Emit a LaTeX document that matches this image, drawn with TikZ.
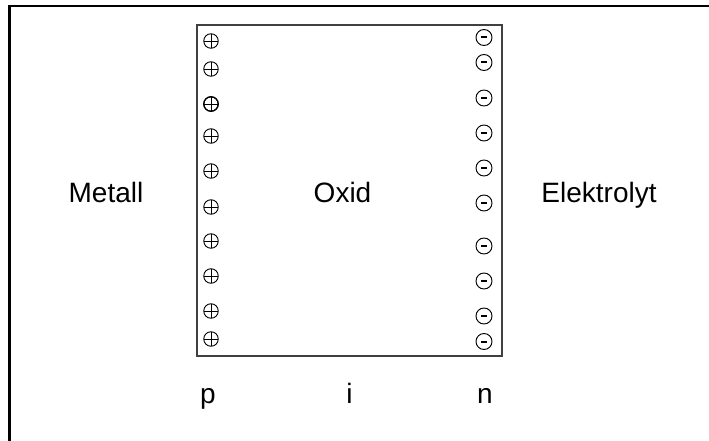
\documentclass[tikz,border=0pt]{standalone}
\usepackage{fontspec}
\setmainfont{Liberation Sans}
\begin{document}
\begin{tikzpicture}[x=1pt,y=-1pt,
  label/.style={inner sep=0pt, anchor=base, font=\fontsize{28}{32}\selectfont},
  layer/.style={draw=black!75, line width=1.3pt, minimum width=305pt, minimum height=331pt, inner sep=0pt},
  pluscharge/.style={circle, draw=black, line width=0.9pt, minimum size=14.5pt, inner sep=0pt,
    path picture={
      \draw[line width=0.8pt]
        ([yshift=-0.8pt]path picture bounding box.west) -- ([yshift=-0.8pt]path picture bounding box.east)
        (path picture bounding box.north) -- (path picture bounding box.south);}},
  minuscharge/.style={circle, draw=black, line width=0.95pt, minimum size=16pt, inner sep=0pt,
    path picture={
      \draw[line width=2pt]
        ([xshift=-3.2pt]path picture bounding box.center) -- ([xshift=3.2pt]path picture bounding box.center);}}
]
\useasboundingbox (0,0) rectangle (709,441);
% outer frame, open towards the right and bottom
\draw[line width=2.6pt] (709,6.2) -| (9.6,441);

% oxide layer
\node[layer] (oxide) at (349.5,190.5) {};

% positive charges at the metal side
\foreach \y [count=\k] in {41,69,104,136,171,207,241,276,311,339}
  \node[pluscharge] (plus\k) at (211,\y) {};
\tikzset{pluscharge/.append style={line width=1.3pt}}
\node[pluscharge] at (plus3) {};

% negative charges at the electrolyte side
\foreach \y [count=\k] in {37.5,62.5,98,133,168,203,246,281,316,341.5}
  \node[minuscharge] (minus\k) at (484,\y) {};

% region labels
\node[label] (metal) at (106,202) {Metall};
\node[label] (oxid) at (342.5,202) {Oxid};
\node[label] (electrolyte) at (599,202) {Elektrolyt};

\node[label] (ptype) at (208,403) {p};
\node[label] (itype) at (349.5,403) {i};
\node[label] (ntype) at (485,403) {n};
\end{tikzpicture}
\end{document}
